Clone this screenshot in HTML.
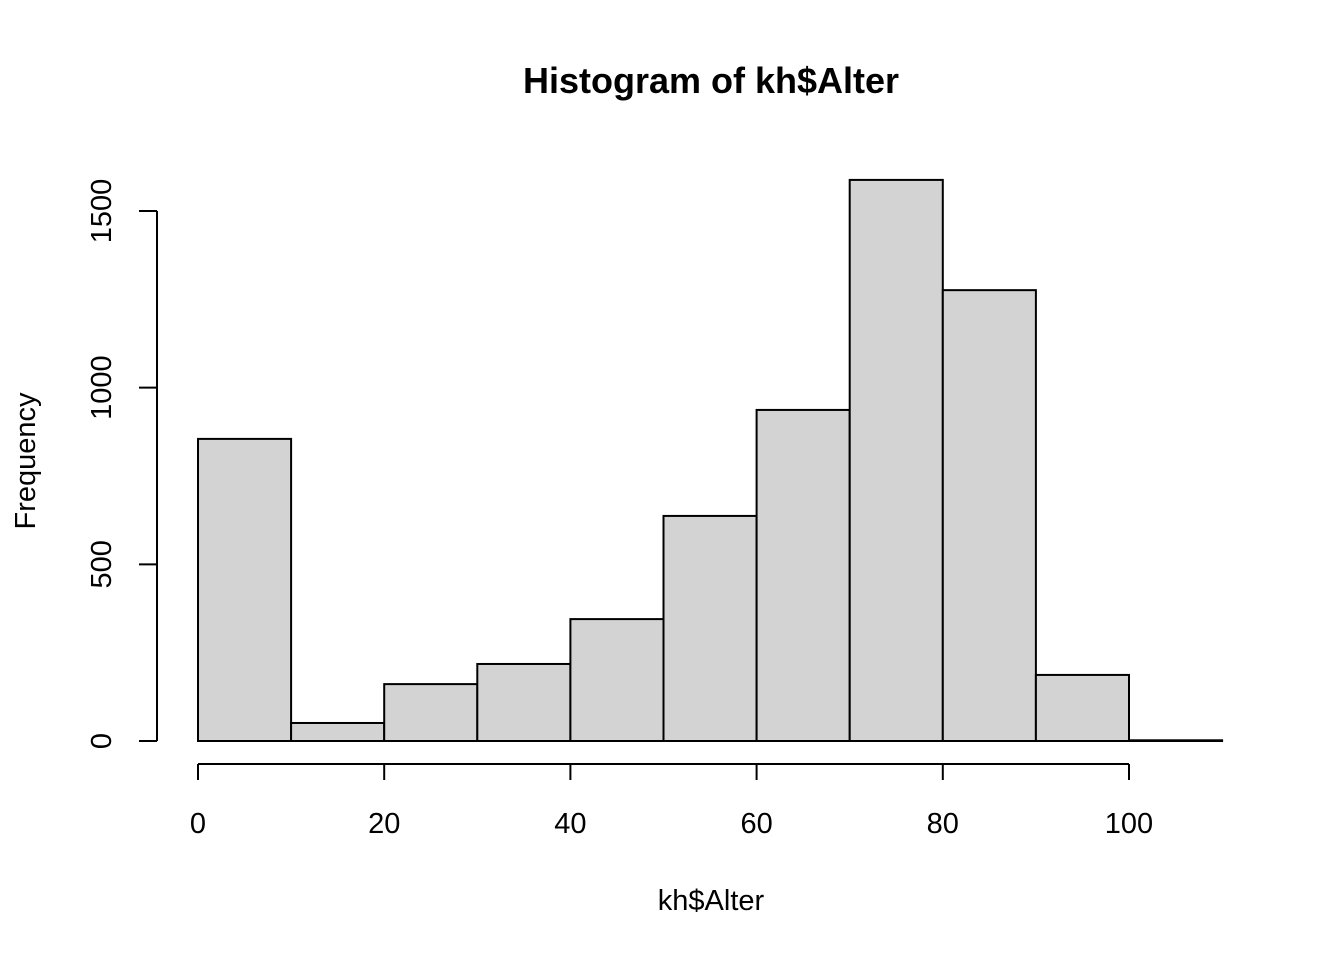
<!DOCTYPE html>
<html><head><meta charset="utf-8"><style>
html,body{margin:0;padding:0;background:#fff;}
svg{display:block;font-family:"Liberation Sans",sans-serif;}
</style></head><body>
<svg id="chart" width="1344" height="960">
<text x="711" y="93" text-anchor="middle" font-size="36" font-weight="bold">Histogram of kh$Alter</text>
<text x="711" y="910" text-anchor="middle" font-size="29">kh$Alter</text>
<text transform="translate(35,461) rotate(-90)" text-anchor="middle" font-size="29">Frequency</text>
<g id="bars"></g>
<g id="xaxis"></g>
<g id="yaxis"></g>
</svg>
<script>
const breaks = [0,10,20,30,40,50,60,70,80,90,100,110];
const counts = [855,51,161,218,345,637,937,1588,1276,187,2];
const xTicks = [0,20,40,60,80,100];
const yTicks = [0,500,1000,1500];
const ns="http://www.w3.org/2000/svg";
const sx=v=>198+v*9.31;
const sy=v=>741-v*0.35333;
function mk(t,a,p){const e=document.createElementNS(ns,t);for(const k in a)e.setAttribute(k,a[k]);p.appendChild(e);return e;}
const bars=document.getElementById('bars');
counts.forEach((c,i)=>{
  const r=mk('rect',{x:sx(breaks[i]),y:sy(c),width:sx(breaks[i+1])-sx(breaks[i]),height:sy(0)-sy(c),fill:'#d3d3d3',stroke:'#000','stroke-width':2},bars);
  
  
});
const xa=document.getElementById('xaxis');
mk('line',{x1:sx(xTicks[0]),x2:sx(xTicks[xTicks.length-1]),y1:764,y2:764,stroke:'#000','stroke-width':2},xa);
xTicks.forEach(v=>{
  mk('line',{x1:sx(v),x2:sx(v),y1:764,y2:780,stroke:'#000','stroke-width':2},xa);
  const t=mk('text',{x:sx(v),y:833,'text-anchor':'middle','font-size':29},xa);
  t.textContent=v;
  
  
});
const ya=document.getElementById('yaxis');
mk('line',{x1:157,x2:157,y1:sy(yTicks[0]),y2:sy(yTicks[yTicks.length-1]),stroke:'#000','stroke-width':2},ya);
yTicks.forEach(v=>{
  mk('line',{x1:139,x2:157,y1:sy(v),y2:sy(v),stroke:'#000','stroke-width':2},ya);
  const t=mk('text',{transform:'translate(111,'+sy(v)+') rotate(-90)','text-anchor':'middle','font-size':29},ya);
  t.textContent=v;
  
  
});
</script>
</body></html>
